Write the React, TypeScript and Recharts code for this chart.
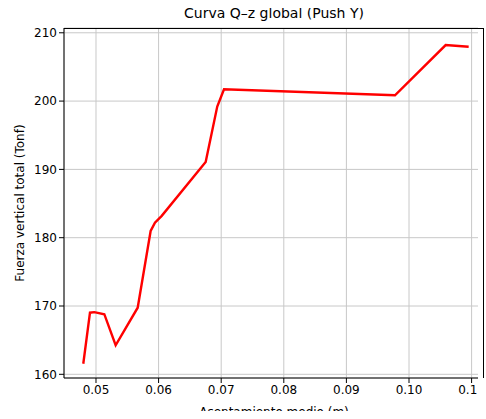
import { LineChart, Line, XAxis, YAxis, CartesianGrid } from "recharts";

// Asentamiento medio (m) vs Fuerza vertical total (Tonf)
const asentamiento = [
  0.04797, 0.04904, 0.04973, 0.05133, 0.05314, 0.05666, 0.05873, 0.05942,
  0.0605, 0.06752, 0.06937, 0.07045, 0.09776, 0.10586, 0.10953,
];
const fuerza = [
  161.55, 169.02, 169.1, 168.8, 164.25, 169.75, 180.98, 182.2, 183.2,
  191.08, 199.2, 201.73, 200.85, 208.2, 207.96,
];
const xTicks = [0.05, 0.06, 0.07, 0.08, 0.09, 0.1, 0.11];
const yTicks = [160, 170, 180, 190, 200, 210];

const data = asentamiento.map((x, i) => ({ x, y: fuerza[i] }));

const font = "DejaVu Sans, sans-serif";
const tickStyle = { fontSize: 12, fill: "#000", fontFamily: font };

export default function App() {
  return (
    <div style={{ width: 486, height: 419, margin: "-8px 0 -8px -8px", background: "#fff" }}>
      <LineChart
        width={486}
        height={419}
        data={data}
        margin={{ top: 28, right: 2, left: 0, bottom: 0 }}
      >
        <CartesianGrid stroke="#c8c8c8" strokeWidth={1} fill="none" />
        <XAxis
          dataKey="x"
          type="number"
          domain={[0.04489, 0.11198]}
          ticks={xTicks}
          tickFormatter={(v: number) => v.toFixed(2)}
          height={41}
          tick={tickStyle}
          tickSize={5}
          tickLine={{ stroke: "#000" }}
          axisLine={{ stroke: "#000" }}
          label={{
            value: "Asentamiento medio (m)",
            position: "insideBottom",
            offset: 3,
            style: { fontSize: 12, fill: "#000", fontFamily: font },
          }}
        />
        <YAxis
          type="number"
          domain={[159.46, 210.7]}
          ticks={yTicks}
          width={64}
          tick={tickStyle}
          tickSize={5}
          tickLine={{ stroke: "#000" }}
          axisLine={{ stroke: "#000" }}
          label={{
            value: "Fuerza vertical total (Tonf)",
            angle: -90,
            position: "insideLeft",
            offset: 20,
            style: { textAnchor: "middle", fontSize: 12, fill: "#000", fontFamily: font },
          }}
        />
        <Line
          type="linear"
          dataKey="y"
          stroke="#ff0000"
          strokeWidth={2.4}
          dot={false}
          isAnimationActive={false}
        />
        <text x={274} y={18} textAnchor="middle" fontSize={14} fontFamily={font} fill="#000">
          Curva Q–z global (Push Y)
        </text>
      </LineChart>
      {/* top and right spines of the axes box */}
      <div
        style={{
          position: "absolute",
          left: 64,
          top: 28,
          width: 420,
          height: 350,
          borderTop: "1px solid #000",
          borderRight: "1px solid #000",
          boxSizing: "border-box",
          pointerEvents: "none",
        }}
      />
    </div>
  );
}
